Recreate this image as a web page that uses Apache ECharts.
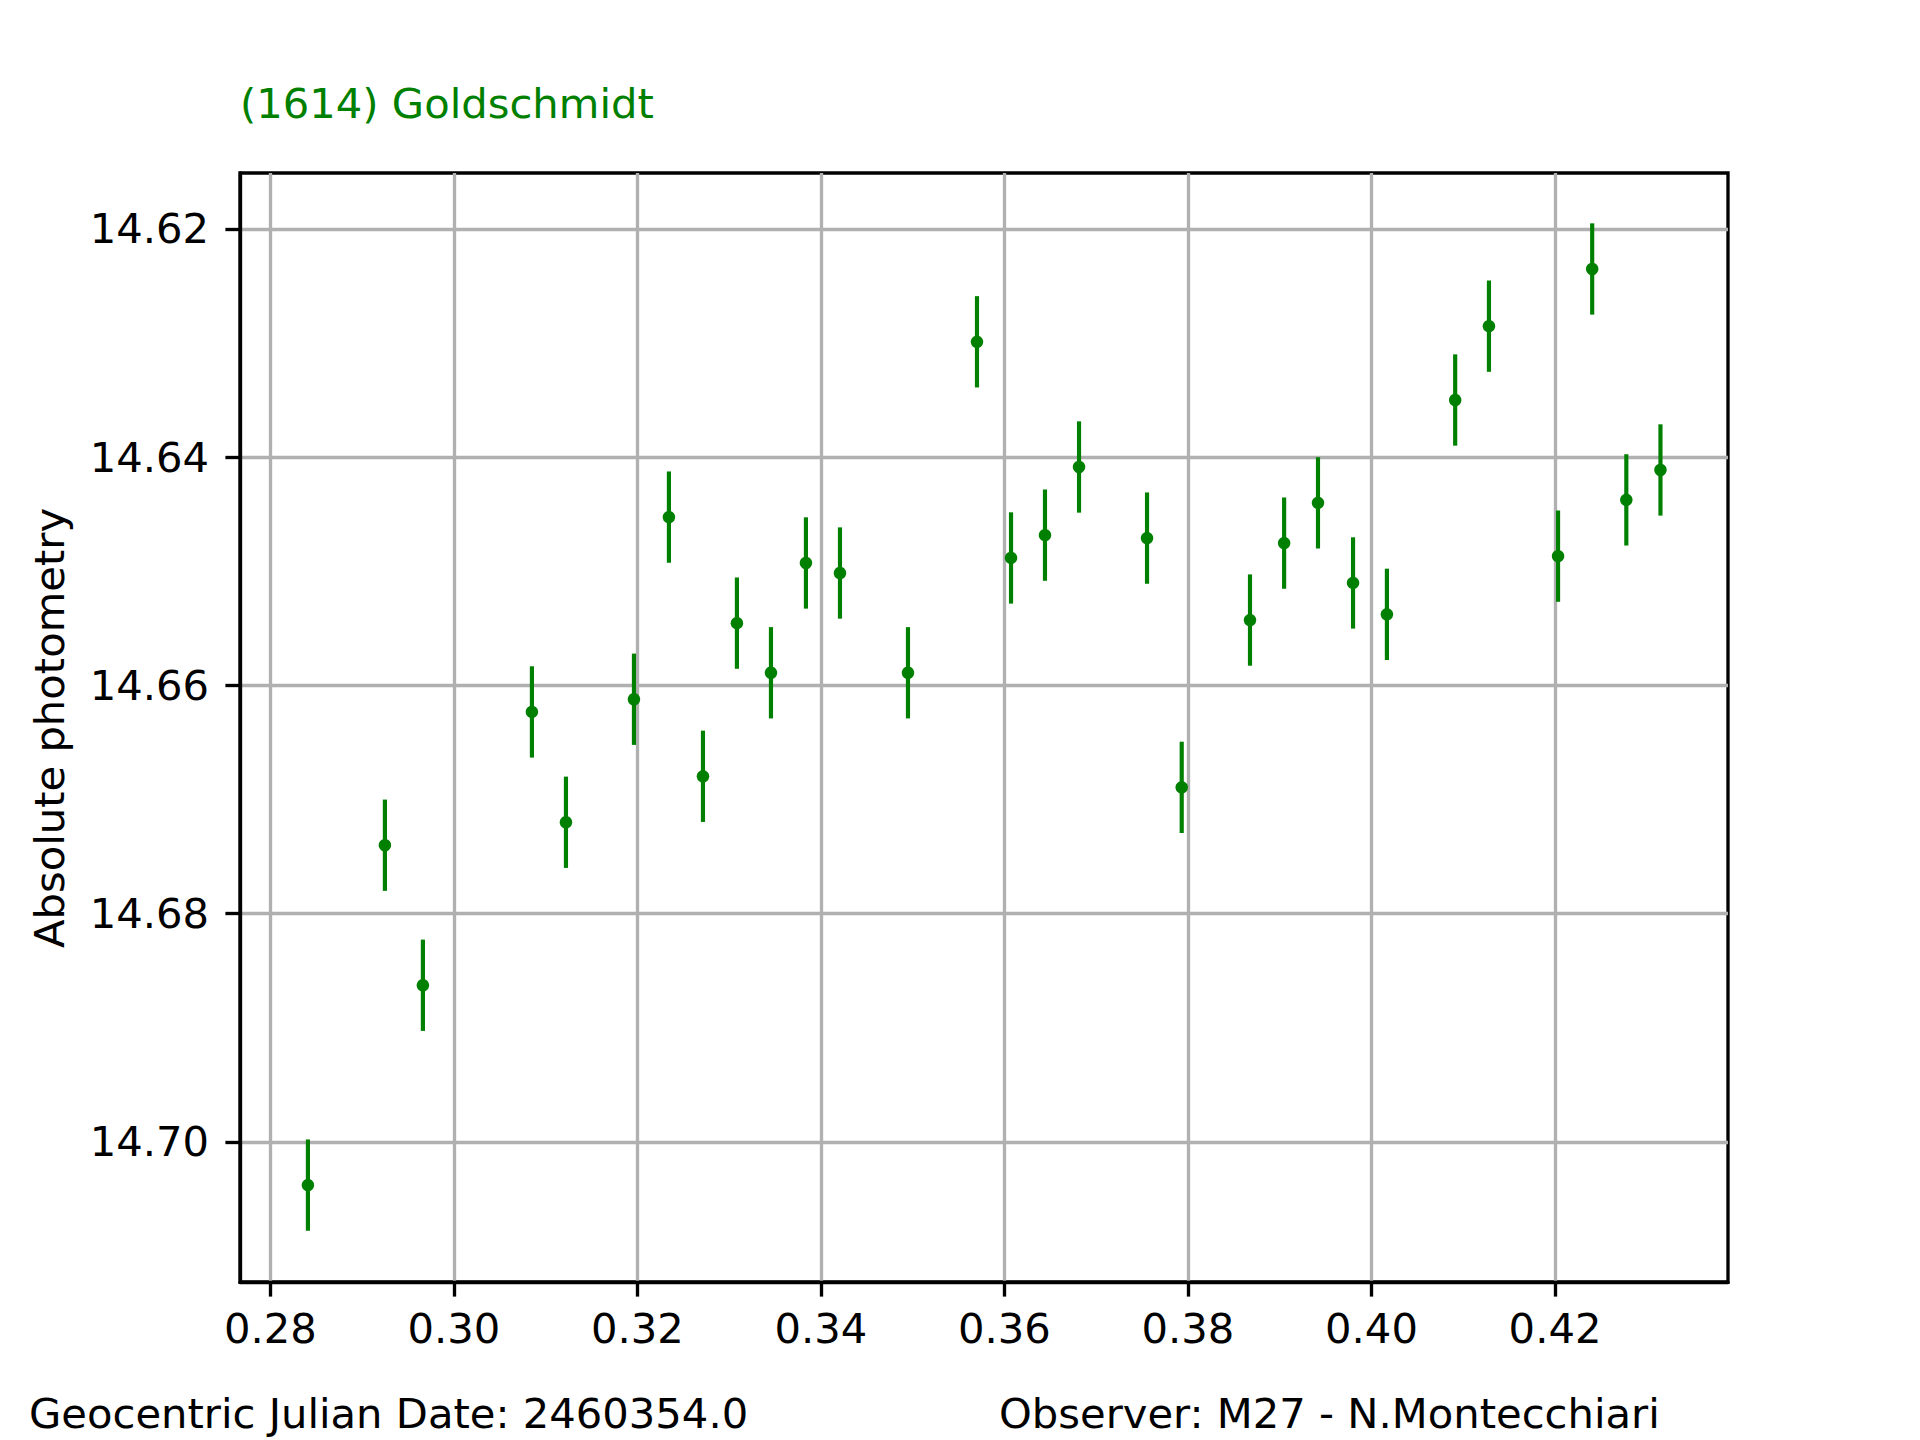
<!DOCTYPE html>
<html>
<head>
<meta charset="utf-8">
<script src="https://cdn.jsdelivr.net/npm/echarts@6/dist/echarts.min.js"></script>
<style>
html,body{margin:0;padding:0;background:#fff;}
#chart{width:1920px;height:1440px;}
</style>
</head>
<body>
<div id="chart"></div>
<script>
// Geocentric JD fraction (JD - 2460354.0)
const jd = [0.28410, 0.29249, 0.29663, 0.30851, 0.31222, 0.31963, 0.32344, 0.32715, 0.33085, 0.33456,
            0.33837, 0.34208, 0.34949, 0.35701, 0.36072, 0.36442, 0.36813, 0.37554, 0.37932, 0.38676,
            0.39048, 0.39417, 0.39799, 0.40168, 0.40912, 0.41280, 0.42033, 0.42405, 0.42777, 0.43149];
// Absolute photometry (mag)
const mag = [14.70378, 14.67400, 14.68627, 14.66232, 14.67199, 14.66121, 14.64525, 14.66796, 14.65454, 14.65889,
             14.64927, 14.65015, 14.65889, 14.62989, 14.64883, 14.64683, 14.64086, 14.64709, 14.66893, 14.65427,
             14.64753, 14.64400, 14.65102, 14.65377, 14.63499, 14.62852, 14.64867, 14.62351, 14.64374, 14.64112];
// Error (half length of bar)
const err = [0.004, 0.004, 0.004, 0.004, 0.004, 0.004, 0.004, 0.004, 0.004, 0.004,
             0.004, 0.004, 0.004, 0.004, 0.004, 0.004, 0.004, 0.004, 0.004, 0.004,
             0.004, 0.004, 0.004, 0.004, 0.004, 0.004, 0.004, 0.004, 0.004, 0.004];

const xTicks = [0.28, 0.30, 0.32, 0.34, 0.36, 0.38, 0.40, 0.42];
const yTicks = [14.62, 14.64, 14.66, 14.68, 14.70];

const titleText = '(1614) Goldschmidt';
const yLabel = 'Absolute photometry';
const footLeft = 'Geocentric Julian Date: 2460354.0';
const footRight = 'Observer: M27 - N.Montecchiari';

const xRange = [0.2767, 0.43885];
const yRange = [14.6151, 14.71227];

const FONT = 'DejaVu Sans';
const FS = 41.7;
const GREEN = '#008000';

const chart = echarts.init(document.getElementById('chart'), null, {renderer: 'svg'});

const points = jd.map((x, i) => [x, mag[i], err[i]]);

const option = {
  animation: false,
  backgroundColor: '#ffffff',
  grid: {
    left: 240, top: 173, right: 192, bottom: 158,
    show: true, borderColor: '#000', borderWidth: 3.33, backgroundColor: 'transparent'
  },
  xAxis: {
    type: 'value', min: xRange[0], max: xRange[1],
    minInterval: 0.02, maxInterval: 0.02, splitNumber: 8,
    axisLine: {show: true, onZero: false, lineStyle: {color: '#000', width: 3.33}},
    axisTick: {show: true, inside: false, length: 14.6, customValues: xTicks,
      lineStyle: {color: '#000', width: 3.33}},
    axisLabel: {show: true, margin: 25, color: '#000', fontFamily: FONT, fontSize: FS,
      customValues: xTicks,
      formatter: v => v.toFixed(2)},
    splitLine: {show: true, lineStyle: {color: '#b0b0b0', width: 3.33}}
  },
  yAxis: {
    type: 'value', inverse: true, min: yRange[0], max: yRange[1],
    minInterval: 0.02, maxInterval: 0.02, splitNumber: 5,
    axisLine: {show: true, onZero: false, lineStyle: {color: '#000', width: 3.33}},
    axisTick: {show: true, inside: false, length: 14.6, customValues: yTicks,
      lineStyle: {color: '#000', width: 3.33}},
    axisLabel: {show: true, margin: 31, color: '#000', fontFamily: FONT, fontSize: FS,
      customValues: yTicks,
      formatter: v => v.toFixed(2)},
    splitLine: {show: true, lineStyle: {color: '#b0b0b0', width: 3.33}}
  },
  graphic: [
    {type: 'text', left: 240, top: 82, style: {text: titleText, fill: GREEN, font: FS + 'px "' + FONT + '"'}},
    {type: 'text', x: 49, y: 728, rotation: Math.PI / 2,
      style: {text: yLabel, fill: '#000', font: FS + 'px "' + FONT + '"', align: 'center', verticalAlign: 'middle'}},
    {type: 'text', x: 29, y: 1413,
      style: {text: footLeft, fill: '#000', font: FS + 'px "' + FONT + '"', align: 'left', verticalAlign: 'middle'}},
    {type: 'text', x: 999, y: 1413,
      style: {text: footRight, fill: '#000', font: FS + 'px "' + FONT + '"', align: 'left', verticalAlign: 'middle'}}
  ],
  series: [
    {
      type: 'custom',
      name: 'error',
      data: points,
      encode: {x: 0, y: 1},
      renderItem: function (params, api) {
        const x = api.value(0), y = api.value(1), e = api.value(2);
        const p1 = api.coord([x, y - e]);
        const p2 = api.coord([x, y + e]);
        return {type: 'line', shape: {x1: p1[0], y1: p1[1], x2: p2[0], y2: p2[1]},
          style: {stroke: GREEN, lineWidth: 4.17}};
      },
      z: 3
    },
    {
      type: 'scatter',
      name: 'mag',
      data: points.map(p => [p[0], p[1]]),
      symbol: 'circle', symbolSize: 12.5,
      itemStyle: {color: GREEN, opacity: 1},
      z: 4
    }
  ]
};
chart.setOption(option);
</script>
</body>
</html>
